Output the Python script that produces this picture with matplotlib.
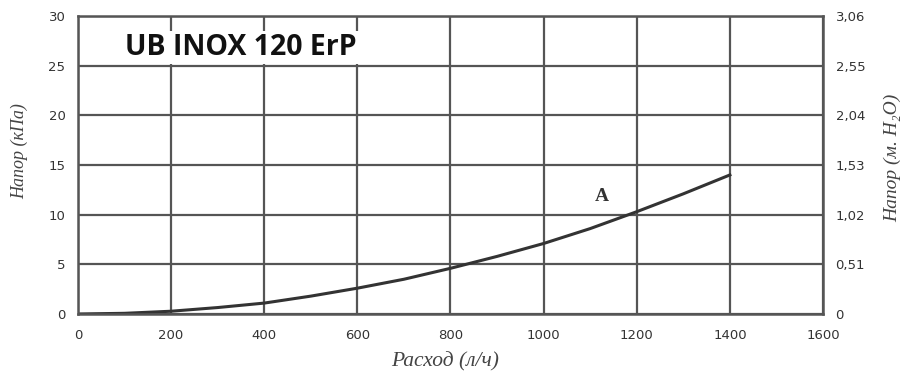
import matplotlib
matplotlib.use('Agg')
import matplotlib.pyplot as plt

# flow rate (l/h) and head (kPa)
flow = [0, 100, 200, 300, 400, 500, 600, 700, 800, 900, 1000, 1100, 1200, 1300, 1400]
head = [0, 0.07, 0.28, 0.65, 1.1, 1.8, 2.6, 3.5, 4.6, 5.8, 7.1, 8.6, 10.3, 12.1, 14.0]

x_ticks = [0, 200, 400, 600, 800, 1000, 1200, 1400, 1600]
y_ticks = [0, 5, 10, 15, 20, 25, 30]
y2_labels = ['0', '0,51', '1,02', '1,53', '2,04', '2,55', '3,06']

title = 'UB INOX 120 ErP'
curve_name = 'A'

fig = plt.figure(figsize=(9.1, 3.82), dpi=100)
ax = fig.add_axes([0.0857, 0.178, 0.8187, 0.78])

gc = '#555555'
ax.set_xlim(0, 1600)
ax.set_ylim(0, 30)
ax.set_xticks(x_ticks)
ax.set_yticks(y_ticks)
ax.grid(True, color=gc, lw=1.6)
for s in ax.spines.values():
  s.set_color(gc)
  s.set_linewidth(1.8)
ax.tick_params(length=0, labelsize=9.5, labelcolor='#333333')
ax.tick_params(axis='x', pad=11)
ax.tick_params(axis='y', pad=9)

ax.plot(flow, head, color='#333333', lw=2.2)
ax.text(1125, 11.8, curve_name, family='Liberation Serif', weight='bold',
        fontsize=14, color='#333333', ha='center', va='center')

ax.text(101, 26.1, title, family='Open Sans', weight='bold', fontsize=20.5,
        ha='left', va='baseline', color='#111111',
        bbox=dict(facecolor='white', edgecolor='none', pad=1.5))

lab = dict(family=['Liberation Serif', 'DejaVu Serif'], style='italic',
           color='#444444', ha='center', va='center', transform=ax.transAxes)
ax.text(0.4926, -0.161, 'Расход (л/ч)', fontsize=15.5, **lab)
ax.text(-0.078, 0.547, 'Напор (кПа)', fontsize=13, rotation=90, **lab)

ax2 = ax.twinx()
ax2.set_ylim(0, 30)
ax2.set_yticks(y_ticks)
ax2.set_yticklabels(y2_labels)
ax2.tick_params(length=0, pad=9, labelsize=9.5, labelcolor='#333333')
for s in ax2.spines.values():
  s.set_visible(False)
ax.text(1.093, 0.523, 'Напор (м. H₂O)', fontsize=14, rotation=90, **lab)

fig.savefig('out.png', dpi=100)
